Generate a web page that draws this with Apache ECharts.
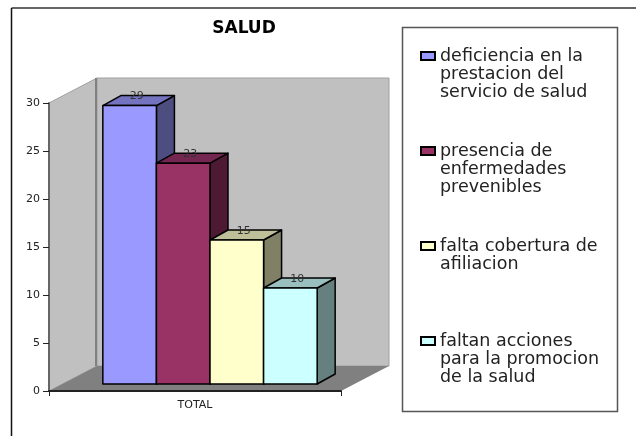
<!DOCTYPE html>
<html>
<head>
<meta charset="utf-8">
<title>SALUD</title>
<script src="https://cdn.jsdelivr.net/npm/echarts@6/dist/echarts.min.js"></script>
<style>
  html, body { margin: 0; padding: 0; background: #fff; }
  #main { width: 636px; height: 436px; }
</style>
</head>
<body>
<div id="main"></div>
<script>
  var titleText = 'SALUD';
  var categories = ['TOTAL'];
  var seriesNames = [
    'deficiencia en la prestacion del servicio de salud',
    'presencia de enfermedades prevenibles',
    'falta cobertura de afiliacion',
    'faltan acciones para la promocion de la salud'
  ];
  // leading blank lines keep the marker next to the first text line
  var legendText = [
    '\n\ndeficiencia en la\nprestacion del\nservicio de salud',
    '\n\npresencia de\nenfermedades\nprevenibles',
    '\n\nfalta cobertura de\nafiliacion\n ',
    '\n\nfaltan acciones\npara la promocion\nde la salud'
  ];
  var values = [29, 23, 15, 10];
  var frontColors = ['#9999ff', '#993366', '#ffffcc', '#ccffff'];
  var topColors = ['#7373bf', '#732650', '#bfbf99', '#99bfbf'];
  var sideColors = ['#4d4d80', '#4d1933', '#808066', '#668080'];

  var wallDepth = [48, -25];
  var barDepth = [18, -10];
  var barShift = [15, -7];
  var barWidthShare = 0.1835;

  function renderWalls(params, api) {
    var c = params.coordSys;
    var l = c.x, r = c.x + c.width, t = c.y, b = c.y + c.height;
    var dx = wallDepth[0], dy = wallDepth[1];
    return {
      type: 'group',
      silent: true,
      children: [
        { type: 'polygon', shape: { points: [[l, t], [l + dx, t + dy], [l + dx, b + dy], [l, b]] },
          style: { fill: '#c0c0c0', stroke: '#a0a0a0', lineWidth: 1 } },
        { type: 'rect', shape: { x: l + dx, y: t + dy, width: r - l, height: b - t },
          style: { fill: '#c0c0c0', stroke: '#a0a0a0', lineWidth: 1 } },
        { type: 'rect', shape: { x: l + dx - 2, y: t + dy, width: 2, height: b - t },
          style: { fill: '#808080' } },
        { type: 'polygon', shape: { points: [[l, b], [l + dx, b + dy], [r + dx, b + dy], [r, b]] },
          style: { fill: '#808080' } }
      ]
    };
  }

  function renderBar(idx) {
    return function (params, api) {
      var top = api.coord([api.value(0), api.value(1)]);
      var base = api.coord([api.value(0), 0]);
      var w = api.size([1, 0])[0] * barWidthShare;
      var x0 = top[0] + barShift[0] + (idx - 2) * w;
      var x1 = x0 + w;
      var y0 = top[1] + barShift[1];
      var y1 = base[1] + barShift[1];
      var dx = barDepth[0], dy = barDepth[1];
      var edge = { stroke: '#000', lineWidth: 1.5, lineJoin: 'round' };
      return {
        type: 'group',
        children: [
          { type: 'polygon', shape: { points: [[x1, y0], [x1 + dx, y0 + dy], [x1 + dx, y1 + dy], [x1, y1]] },
            style: Object.assign({ fill: sideColors[idx] }, edge) },
          { type: 'polygon', shape: { points: [[x0, y0], [x0 + dx, y0 + dy], [x1 + dx, y0 + dy], [x1, y0]] },
            style: Object.assign({ fill: topColors[idx] }, edge) },
          { type: 'rect', shape: { x: x0, y: y0, width: w, height: y1 - y0 },
            style: Object.assign({ fill: frontColors[idx] }, edge) },
          { type: 'text', z2: 10, style: {
              x: (x0 + x1) / 2 + 7, y: y0 - 9, text: String(api.value(1)),
              fill: '#333', font: '11px "DejaVu Sans"', align: 'center', verticalAlign: 'middle' } }
        ]
      };
    };
  }

  var series = [{
    name: 'walls',
    type: 'custom',
    silent: true,
    z: 1,
    renderItem: renderWalls,
    data: [[0, 30]]
  }];
  values.forEach(function (v, i) {
    series.push({
      name: seriesNames[i],
      type: 'custom',
      z: 2 + i,
      renderItem: renderBar(i),
      itemStyle: { color: frontColors[i], borderColor: '#000', borderWidth: 1 },
      encode: { x: 0, y: 1 },
      data: [[0, v]]
    });
  });

  var char = echarts.init(document.getElementById('main'));
  char.setOption({
    animation: false,
    backgroundColor: '#fff',
    title: {
      text: titleText,
      left: 244,
      top: 20,
      textAlign: 'center',
      padding: 0,
      textStyle: { fontFamily: 'DejaVu Sans', fontWeight: 'bold', fontSize: 17, color: '#000' }
    },
    grid: { left: 49, top: 103, width: 292, height: 288 },
    xAxis: {
      type: 'category',
      data: categories,
      axisLine: { lineStyle: { color: '#222', width: 2 } },
      axisTick: { show: true, alignWithLabel: false, length: 5, lineStyle: { color: '#222' } },
      axisLabel: { margin: 9, color: '#222', fontFamily: 'DejaVu Sans', fontSize: 11 },
      z: 20
    },
    yAxis: {
      type: 'value',
      min: 0,
      max: 30,
      interval: 5,
      splitLine: { show: false },
      axisLine: { show: true, lineStyle: { color: '#666', width: 2 } },
      axisTick: { show: true, length: 6, lineStyle: { color: '#222' } },
      axisLabel: { margin: 9, color: '#222', fontFamily: 'DejaVu Sans', fontSize: 11 },
      z: 20
    },
    legend: {
      left: 420,
      top: 11,
      orient: 'vertical',
      padding: 0,
      itemGap: 5,
      itemWidth: 14,
      itemHeight: 8,
      icon: 'rect',
      selectedMode: false,
      data: seriesNames,
      formatter: function (name) {
        return legendText[seriesNames.indexOf(name)];
      },
      textStyle: { fontFamily: 'DejaVu Sans', fontSize: 17.5, lineHeight: 18, color: '#222' }
    },
    graphic: [
      { type: 'line', z: -1, shape: { x1: 11.5, y1: 8, x2: 636, y2: 8 }, style: { stroke: '#333', lineWidth: 1.5 } },
      { type: 'line', z: -1, shape: { x1: 11.5, y1: 8, x2: 11.5, y2: 436 }, style: { stroke: '#111', lineWidth: 1.5 } },
      { type: 'rect', z: -1, shape: { x: 402.5, y: 27.5, width: 215, height: 384 },
        style: { fill: '#fff', stroke: '#555', lineWidth: 1.5 } }
    ],
    series: series
  });
</script>
</body>
</html>
